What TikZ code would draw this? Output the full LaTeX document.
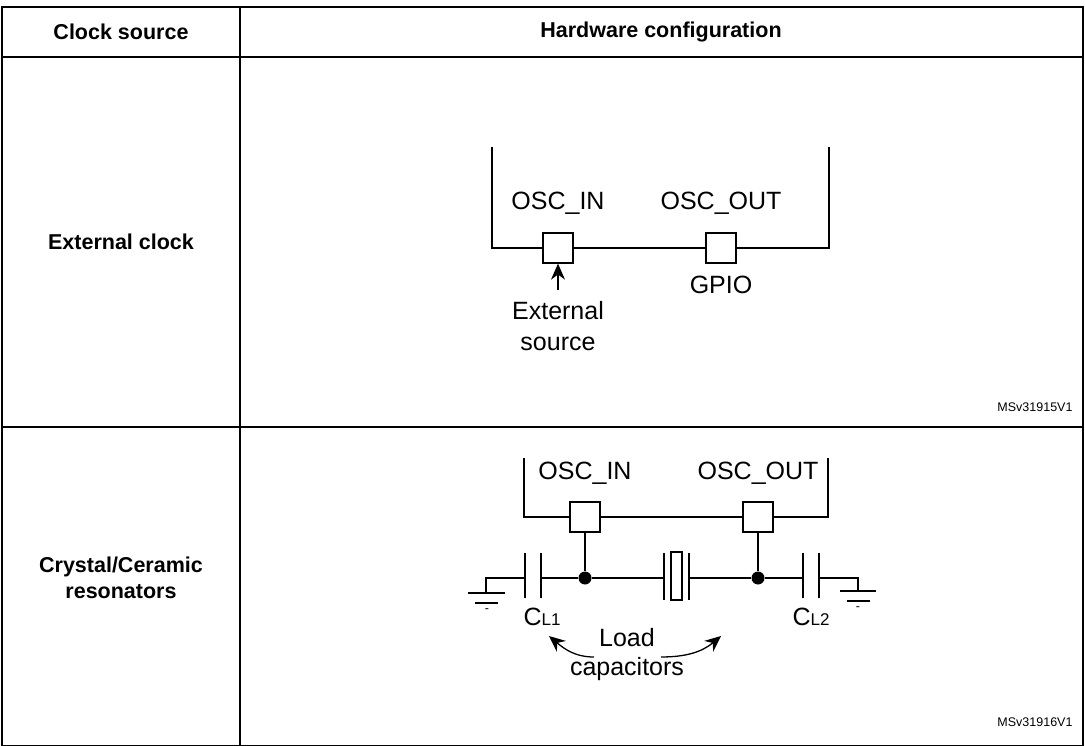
\documentclass[tikz,border=0pt]{standalone}
\usepackage{fontspec}
\setmainfont{Liberation Sans}
\usetikzlibrary{arrows.meta}
\begin{document}
\begin{tikzpicture}[x=1pt,y=-1pt,line width=1.3pt,
  lbl/.style={font=\fontsize{25}{27}\selectfont,inner sep=0},
  hdr/.style={font=\bfseries\fontsize{21.5}{26}\selectfont,align=center,inner sep=0},
  ref/.style={font=\fontsize{12.5}{14}\selectfont,inner sep=0},
  pin/.style={draw,minimum size=30pt,inner sep=0},
  dot/.style={circle,fill,inner sep=0,minimum size=13pt},
  arr/.style={-{Stealth[length=16pt,width=14pt]}}]
\useasboundingbox (0,0) rectangle (1085,746);
% table
\draw (2,7) rectangle (1083,746);
\draw (240,7) -- (240,746);
\draw (2,57) -- (1083,57);
\draw (2,427) -- (1083,427);
\node[hdr] (h1) at (121,32) {Clock source};
\node[hdr] (h2) at (661,32) {Hardware configuration};
\node[hdr] (r1) at (121,242) {External clock};
\node[hdr] (r2) at (121,578) {Crystal/Ceramic\\resonators};
% top circuit
\node[pin] (pi1) at (558,248) {};
\node[pin] (po1) at (721,248) {};
\coordinate (tl) at (492,147); \coordinate (tr) at (829,147);
\draw (tl) |- (pi1.west);
\draw (pi1.east) -- (po1.west);
\draw (po1.east) -| (tr);
\node[lbl] (li1) at (558,203) {OSC\_IN};
\node[lbl] (lo1) at (721,203) {OSC\_OUT};
\node[lbl] (gp) at (721,285) {GPIO};
\node[lbl,align=center] (ext) at (558,326) {External\\[4pt]source};
\coordinate (ea) at (558,290);
\draw[arr] (ea) -- (pi1.south);
\node[ref] (m1) at (1035,407) {MSv31915V1};
% bottom circuit
\node[pin] (pi2) at (585,517) {};
\node[pin] (po2) at (758,517) {};
\coordinate (bl) at (524,458); \coordinate (br) at (828,458);
\draw (bl) |- (pi2.west);
\draw (pi2.east) -- (po2.west);
\draw (po2.east) -| (br);
\node[lbl] (li2) at (585,473) {OSC\_IN};
\node[lbl] (lo2) at (758,473) {OSC\_OUT};
\node[dot] (d1) at (585,578) {};
\node[dot] (d2) at (758,578) {};
\draw (pi2.south) -- (d1);
\draw (po2.south) -- (d2);
% crystal
\draw (d1) -- (664,578);
\draw (664,553) -- (664,600);
\draw (671,552) rectangle (682,600);
\draw (689,553) -- (689,600);
\draw (689,578) -- (d2);
% left cap
\draw (d1) -- (541,578);
\draw (541,553) -- (541,598);
\draw (525,553) -- (525,598);
\draw (525,578) -- (486,578) -- (486,593);
\draw (468,593) -- (505,593);
\draw (475,603) -- (498,603);
\node[ref] at (487,611) {-};
% right cap
\draw (d2) -- (803,578);
\draw (803,553) -- (803,598);
\draw (819,553) -- (819,598);
\draw (819,578) -- (858,578) -- (858,591);
\draw (840,591) -- (876,591);
\draw (847,601) -- (870,601);
\node[ref] at (858,609) {-};
\node[lbl] (c1) at (542,617) {C\fontsize{17}{17}\selectfont L1};
\node[lbl] (c2) at (811,617) {C\fontsize{17}{17}\selectfont L2};
\node[lbl,align=center] (lc) at (627,655) {Load\\[2pt]capacitors};
\draw[arr] (594,657) to[out=180,in=-40] (549,636);
\draw[arr] (661,657) to[out=0,in=-140] (721,636);
\node[ref] (m2) at (1035,722) {MSv31916V1};
\end{tikzpicture}
\end{document}
